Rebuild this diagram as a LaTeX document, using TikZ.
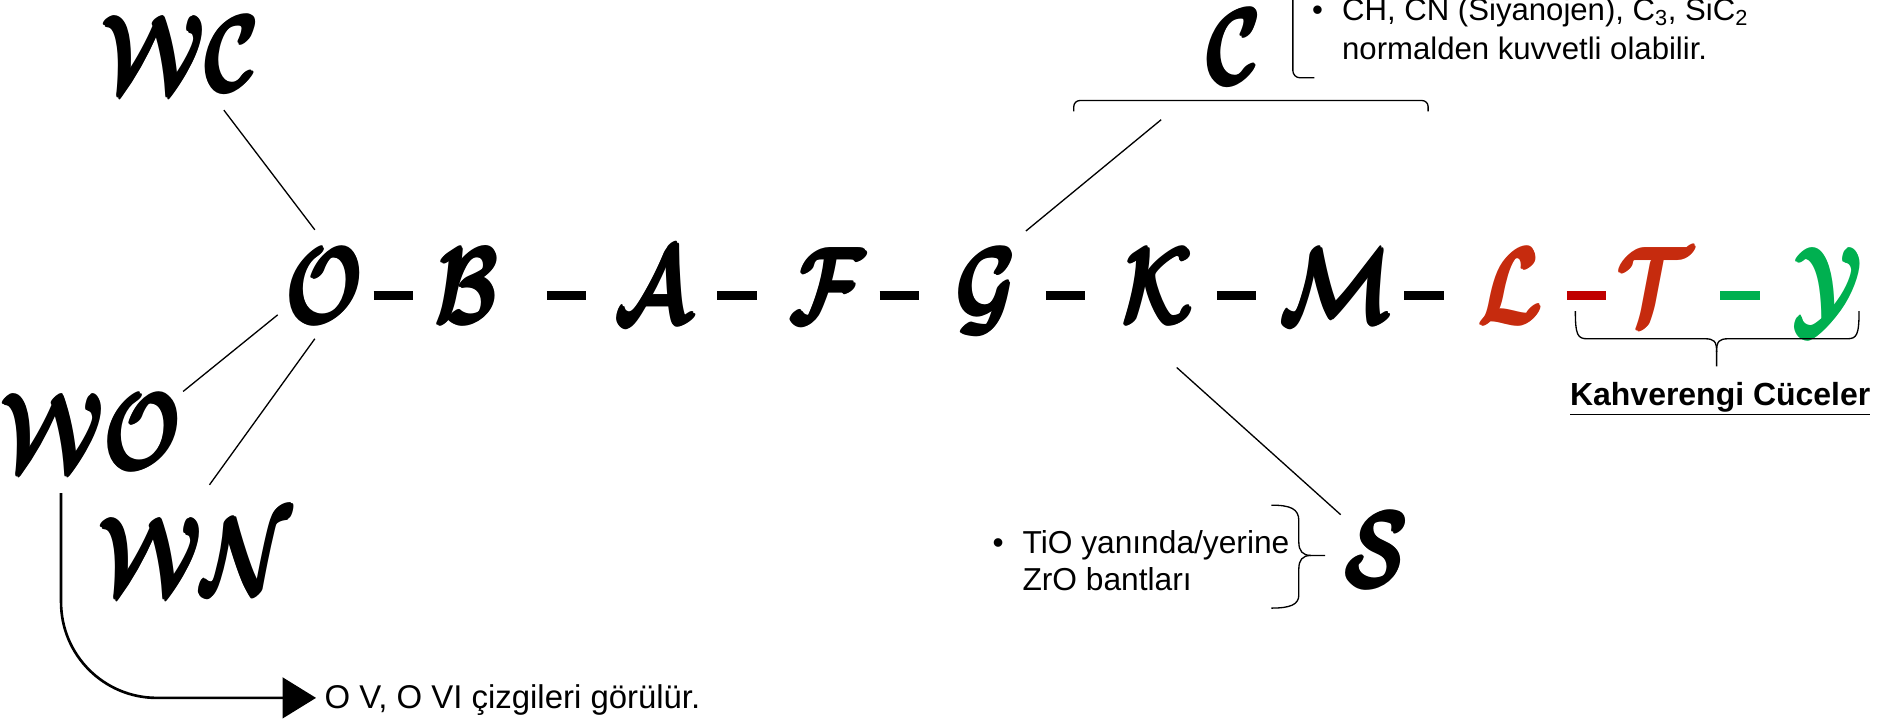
\documentclass[tikz,border=0pt]{standalone}
\usepackage{fontspec}
\setmainfont{Liberation Sans}
\usetikzlibrary{calc,arrows.meta}
\definecolor{lred}{HTML}{C62B0E}
\definecolor{dred}{HTML}{C00000}
\definecolor{lgreen}{HTML}{00B050}
\newcommand\heavyglyph[1]{%
  \makebox[0pt][l]{\kern0.45pt$\mathcal{#1}$}%
  \makebox[0pt][l]{\kern-0.45pt$\mathcal{#1}$}%
  \makebox[0pt][l]{\raisebox{0.35pt}{$\mathcal{#1}$}}%
  \makebox[0pt][l]{\raisebox{-0.35pt}{$\mathcal{#1}$}}%
  $\mathcal{#1}$}
\tikzset{
  scr/.style={inner sep=0pt, anchor=base, xscale=2.75, yscale=3.62, font=\Huge\boldmath},
  bar/.style={line width=7pt},
  conn/.style={line width=1.1pt},
  txt/.style={font=\fontsize{26.5}{31}\selectfont, inner sep=0pt, align=left, anchor=base west},
}
\begin{document}
\begin{tikzpicture}[x=1pt,y=-1pt]
\useasboundingbox (0,0) rectangle (1568,601);
% main sequence
\node[scr] (O) at (271,270) {\heavyglyph{O}};
\node[scr] (B) at (390,270) {\heavyglyph{B}};
\node[scr] (A) at (545,270) {\heavyglyph{A}};
\node[scr] (F) at (691,270) {\heavyglyph{F}};
\node[scr] (G) at (824,270) {\heavyglyph{G}};
\node[scr] (K) at (967,270) {\heavyglyph{K}};
\node[scr] (M) at (1116,270) {\heavyglyph{M}};
\node[scr,text=lred] (L) at (1262,270) {\heavyglyph{L}};
\node[scr,text=lred] (T) at (1382,270) {\heavyglyph{T}};
\node[scr,text=lgreen] (Y) at (1527,270) {\heavyglyph{Y}};
% branches
\node[scr] (WC) at (151,76) {\heavyglyph{WC}};
\node[scr] (WO) at (76,392) {\heavyglyph{WO}};
\node[scr] (WN) at (163,495) {\heavyglyph{WN}};
\node[scr] (C) at (1031,70) {\heavyglyph{C}};
\node[scr] (S) at (1150,490) {\heavyglyph{S}};
% dashes
\draw[bar] ($(O.base)!.48!(B.base)+(-16,-23)$) -- ++(33,0);
\draw[bar] ($(B.base)!.535!(A.base)+(-16,-23)$) -- ++(33,0);
\draw[bar] ($(A.base)!.48!(F.base)+(-16,-23)$) -- ++(33,0);
\draw[bar] ($(F.base)!.45!(G.base)+(-16,-23)$) -- ++(33,0);
\draw[bar] ($(G.base)!.46!(K.base)+(-16,-23)$) -- ++(33,0);
\draw[bar] ($(K.base)!.44!(M.base)+(-16,-23)$) -- ++(33,0);
\draw[bar] ($(M.base)!.50!(L.base)+(-16,-23)$) -- ++(33,0);
\draw[bar,dred] ($(L.base)!.525!(T.base)+(-16,-23)$) -- ++(33,0);
\draw[bar,lgreen] ($(T.base)!.49!(Y.base)+(-16,-23)$) -- ++(33,0);
% connectors
\draw[conn] ($(WC.base)+(36,16)$) -- ($(O.base)+(-8,-78)$);
\draw[conn] ($(O.base)+(-39,-7)$) -- ($(WO.base)+(77,-65)$);
\draw[conn] ($(O.base)+(-8,13)$) -- ($(WN.base)+(12,-90)$);
\coordinate (Cb) at (970,100);
\draw[conn] ($(G.base)+(33,-77)$) -- (Cb);
\draw[conn] ($(K.base)+(16,37)$) -- ($(S.base)+(-30,-60)$);
% C brackets
\draw[conn, rounded corners=5pt] (897,93) |- (1193,84) -- (1193,93);
\draw[conn, rounded corners=6pt] (1080,-3) |- (1098,65);
\node[txt, font=\fontsize{26}{33}\selectfont] (ctext) at (1096,50) {\makebox[25pt][l]{\textbullet}CH, CN (Siyanojen), C\textsubscript{3}, SiC\textsubscript{2}\\\hspace*{25pt}normalden kuvvetli olabilir.};
% S brace
\draw[conn] (1062,422) .. controls (1078,422) and (1085,425) .. (1085,435) -- (1085,453)
  .. controls (1085,460) and (1088,464) .. (1095,464) -- (1107,464);
\draw[conn] (1095,464) .. controls (1088,464) and (1085,468) .. (1085,475) -- (1085,497)
  .. controls (1085,505) and (1078,508) .. (1062,508);
\node[txt] (stext) at (829,493) {\makebox[25pt][l]{\textbullet}TiO yanında/yerine\\\hspace*{25pt}ZrO bantları};
% brown dwarf brace
\draw[conn] (1316,260) .. controls (1316,280) and (1318,283) .. (1326,283) -- (1424,283)
  .. controls (1432,283) and (1434,285) .. (1434,294) -- (1434,306);
\draw[conn] (1553,260) .. controls (1553,280) and (1551,283) .. (1543,283) -- (1444,283)
  .. controls (1436,283) and (1434,285) .. (1434,294);
\node[inner sep=0pt, anchor=base, font=\fontsize{26.7}{30}\selectfont\bfseries] (kc) at (1437,339) {\underline{Kahverengi Cüceler}};
% WO arrow
\coordinate (ovtip) at (264,583);
\draw[line width=2.2pt, rounded corners=80pt, -{Triangle[length=28pt,width=34pt]}] ($(WO.base)+(-25,20)$) |- (ovtip);
\node[txt, font=\fontsize{27.5}{31}\selectfont] (ovtext) at (271,592) {O V, O VI çizgileri görülür.};
\end{tikzpicture}
\end{document}
